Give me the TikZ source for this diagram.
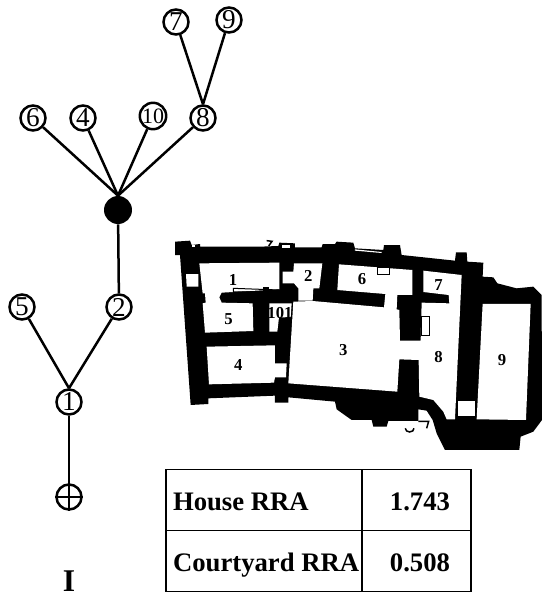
\documentclass[tikz,border=0pt]{standalone}
\usepackage{fontspec}
\setmainfont{Liberation Serif}
\usepackage{tikz}
\usetikzlibrary{positioning}
\tikzset{
  room/.style={circle,draw,line width=0.05cm,minimum size=0.5cm,inner sep=0pt,font=\fontsize{15.5}{15.5}\selectfont},
  smallroom/.style={room,font=\fontsize{12.5}{12.5}\selectfont},
  blob/.style={circle,fill=black,minimum size=0.56cm,inner sep=0pt},
  treeline/.style={line width=0.05cm},
  planno/.style={font=\bfseries\fontsize{9.5}{9.5}\selectfont,inner sep=0pt},
  cell/.style={draw,line width=0.025cm,minimum height=1.22cm,inner sep=0pt,text height=0.4cm,text depth=0pt,font=\bfseries\fontsize{15.2}{15.2}\selectfont},
}
\begin{document}
\begin{tikzpicture}[x=0.02cm,y=-0.02cm]
\useasboundingbox (0,0) rectangle (542,595);
% graph
\node[room] (n7) at (176,22) {7};
\node[room] (n9) at (229,20) {9};
\node[room] (n6) at (33,118) {6};
\node[room] (n4) at (83,118) {4};
\node[smallroom] (n10) at (153,116) {10};
\node[room] (n8) at (203,118) {8};
\node[blob] (hub) at (118,210) {};
\node[room] (n5) at (22,307) {5};
\node[room] (n2) at (119,307) {2};
\node[room] (n1) at (69,402) {1};
\node[room] (entry) at (69,497) {};
\node[font=\bfseries\fontsize{18}{18}\selectfont,inner sep=0pt] (title) at (69,581) {I};

\draw[line width=0.04cm] (entry.north) -- (entry.south) (entry.west) -- (entry.east);

\path[treeline]
(n7) edge (n8.north)
(n9) edge (n8.north)
(n6) edge (hub.north)
(n4) edge (hub.north)
(n10) edge (hub.north)
(n8) edge (hub.north)
(hub) edge (n2)
(n2) edge (n1.north)
(n5) edge (n1.north)
(n1) edge (entry);

% plan
\begin{scope}[shift={(160,220)},x=0.006667cm,y=-0.006667cm]
\fill[black] (45,65) -- (90,62) -- (95,75) -- (120,72) -- (120,80) -- (300,80) -- (355,78) -- (358,68)
  -- (405,70) -- (405,82) -- (485,82) -- (488,72) -- (525,72) -- (530,65) -- (580,68) -- (585,85)
  -- (670,90) -- (672,75) -- (720,75) -- (725,105) -- (885,122) -- (888,97) -- (920,97) -- (922,125)
  -- (970,128) -- (968,170) -- (1000,172) -- (1012,190) -- (1070,205) -- (1120,200) -- (1145,225)
  -- (1146,600) -- (1120,635) -- (1082,650) -- (1078,690) -- (855,690) -- (830,640) -- (818,600)
  -- (800,572) -- (775,568) -- (775,603) -- (685,603) -- (680,620) -- (640,620) -- (635,600)
  -- (575,600) -- (530,568) -- (525,545) -- (385,532) -- (385,548) -- (345,548) -- (345,527)
  -- (145,535) -- (145,552) -- (92,555) -- (60,105) -- (45,105) -- cycle;
% rooms
\fill[white] (118,130) -- (358,128) -- (358,208) -- (185,218) -- (178,232) -- (185,248) -- (278,250)
  -- (280,333) -- (135,338) -- (128,250) -- (137,248) -- (135,220) -- (128,220) -- cycle;
\fill[white] (368,155) -- (400,155) -- (402,130) -- (487,130) -- (478,205) -- (460,205) -- (458,242)
  -- (415,242) -- (415,205) -- (402,190) -- (368,190) -- cycle;
\fill[white] (537,133) -- (757,150) -- (757,225) -- (712,225) -- (710,268) -- (718,270) -- (720,362)
  -- (782,362) -- (785,248) -- (868,250) -- (866,225) -- (790,216) -- (790,152) -- (905,165)
  -- (885,598) -- (860,598) -- (850,575) -- (820,540) -- (778,530) -- (776,420) -- (718,418)
  -- (712,515) -- (385,490) -- (400,245) -- (458,243) -- (672,262) -- (676,222) -- (532,210) -- cycle;
\fill[white] (328,250) -- (395,250) -- (392,292) -- (357,292) -- (352,335) -- (328,335) -- cycle;
\fill[white] (140,380) -- (345,376) -- (345,430) -- (380,430) -- (378,472) -- (345,472) -- (342,488) -- (147,493) -- cycle;
\fill[white] (968,252) -- (1112,252) -- (1098,600) -- (950,598) -- cycle;
% niches
\fill[white] (78,162) -- (115,162) -- (115,200) -- (80,200) -- cycle;
\fill[white] (895,542) -- (945,542) -- (945,588) -- (895,588) -- cycle;
\fill[white] (366,74) -- (390,74) -- (390,84) -- (366,84) -- cycle;
\fill[white] (585,88) -- (665,96) -- (665,99) -- (585,92) -- cycle;
\fill[white] (97,74) -- (106,74) -- (106,82) -- (97,82) -- cycle;
\draw[line width=0.02cm,fill=white] (652,141) rectangle (688,162);
\draw[line width=0.02cm,fill=white] (785,290) rectangle (810,346);
\draw[line width=0.02cm] (220,216) -- (220,205) -- (358,210);
\draw[line width=0.02cm] (220,216) -- (358,214);
\fill[black] (310,200) rectangle (326,216);
% label remnants at the edge of the plan
\draw[line width=0.03cm] (320,62) -- (336,64) -- (326,78);
\draw[line width=0.03cm] (736,625) arc (180:0:13 and 11);
\draw[line width=0.03cm] (775,604) -- (806,604) -- (800,625);
\node[planno] (p1) at (219,181) {1};
\node[planno] (p2) at (445,169) {2};
\node[planno] (p3) at (550,391) {3};
\node[planno] (p4) at (235,435) {4};
\node[planno] (p5) at (206,298) {5};
\node[planno] (p6) at (606,177) {6};
\node[planno] (p7) at (836,195) {7};
\node[planno] (p8) at (836,411) {8};
\node[planno] (p9) at (1026,419) {9};
\node[planno] (p10) at (360,279) {101};
\end{scope}

% table
\node[cell,minimum width=3.92cm] (house) at (264,500) {\makebox[3.64cm][l]{House RRA}};
\node[cell,minimum width=2.18cm] (housev) at (416.5,500) {\hspace*{0.14cm}1.743};
\node[cell,minimum width=3.92cm] (court) at (264,561) {\makebox[3.64cm][l]{Courtyard RRA}};
\node[cell,minimum width=2.18cm] (courtv) at (416.5,561) {\hspace*{0.14cm}0.508};
\end{tikzpicture}
\end{document}
